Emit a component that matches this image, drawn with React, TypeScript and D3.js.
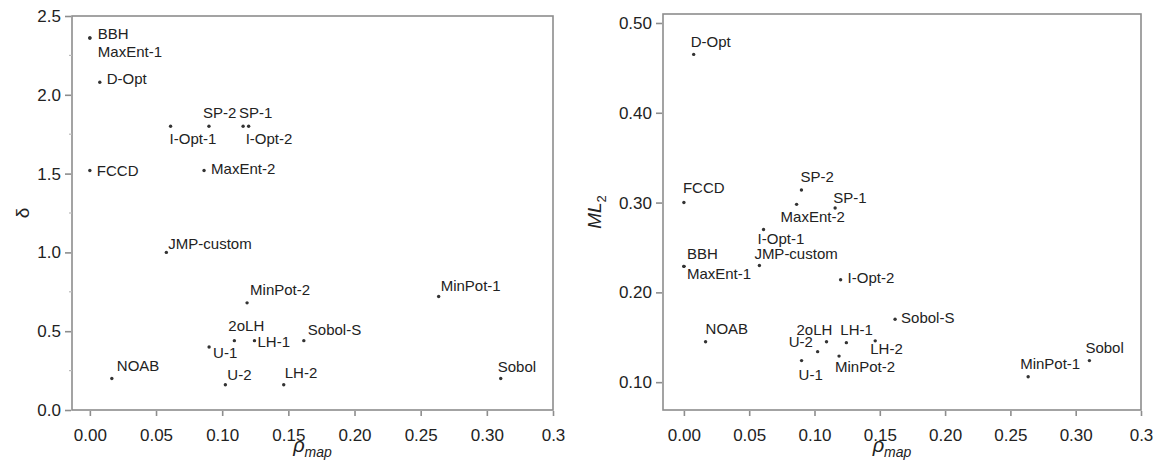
import { useEffect, useRef } from 'react';
import * as d3 from 'd3';

// design names and their measured values
const designs = ['BBH', 'MaxEnt-1', 'D-Opt', 'FCCD', 'I-Opt-1', 'I-Opt-2', 'SP-1', 'SP-2', 'MaxEnt-2', 'JMP-custom',
	'MinPot-1', 'MinPot-2', '2oLH', 'LH-1', 'LH-2', 'U-1', 'U-2', 'NOAB', 'Sobol', 'Sobol-S'];
const rhoMap = [0.0, 0.0, 0.0075, 0.0, 0.061, 0.12, 0.1158, 0.09, 0.0863, 0.0578,
	0.2636, 0.1188, 0.1092, 0.1244, 0.1465, 0.0901, 0.1024, 0.0166, 0.3105, 0.1617];
const delta = [2.36, 2.36, 2.08, 1.52, 1.80, 1.80, 1.80, 1.80, 1.52, 1.00,
	0.72, 0.68, 0.44, 0.44, 0.16, 0.40, 0.16, 0.20, 0.20, 0.44];
const ml2 = [0.229, 0.229, 0.465, 0.300, 0.270, 0.214, 0.294, 0.314, 0.298, 0.230,
	0.106, 0.129, 0.145, 0.144, 0.146, 0.124, 0.134, 0.145, 0.124, 0.170];

const xTicks = [0, 0.05, 0.1, 0.15, 0.2, 0.25, 0.3, 0.35];
const xTickLabels = ['0.00', '0.05', '0.10', '0.15', '0.20', '0.25', '0.30', '0.3'];
const deltaTicks = [0, 0.5, 1.0, 1.5, 2.0, 2.5];
const deltaMinor = [0.25, 0.75, 1.25, 1.75, 2.25];
const ml2Ticks = [0.1, 0.2, 0.3, 0.4, 0.5];

// label placement relative to each dot: [dx, dy]
const leftLabelPos: Record<string, [number, number]> = {
	'BBH': [8, 1], 'MaxEnt-1': [8, 19], 'D-Opt': [7, 2], 'FCCD': [7, 6], 'I-Opt-1': [-1, 18], 'I-Opt-2': [-3, 18],
	'SP-1': [-4, -8], 'SP-2': [-6, -8], 'MaxEnt-2': [7, 4], 'JMP-custom': [2, -3], 'MinPot-1': [2, -6],
	'MinPot-2': [3, -8], '2oLH': [-6, -10], 'LH-1': [3, 6], 'LH-2': [1, -7], 'U-1': [4, 11], 'U-2': [2, -5],
	'NOAB': [5, -7], 'Sobol': [-3, -6], 'Sobol-S': [4, -6],
};
const rightLabelPos: Record<string, [number, number]> = {
	'BBH': [3, -7], 'MaxEnt-1': [3, 13], 'D-Opt': [-3, -7], 'FCCD': [-1, -10], 'I-Opt-1': [-6, 14], 'I-Opt-2': [7, 3],
	'SP-1': [-2, -5], 'SP-2': [-1, -8], 'MaxEnt-2': [-16, 18], 'JMP-custom': [-5, -6], 'MinPot-1': [-8, -8],
	'MinPot-2': [-4, 16], '2oLH': [-30, -7], 'LH-1': [-6, -8], 'LH-2': [-5, 13], 'U-1': [-3, 19], 'U-2': [-29, -5],
	'NOAB': [0, -8], 'Sobol': [-4, -8], 'Sobol-S': [6, 4],
};

const font = '"Liberation Sans", Arial, Helvetica, sans-serif';
const axisGray = '#8d8d8d';
const ink = '#222';

export default function App() {
	const ref = useRef<SVGSVGElement | null>(null);

	useEffect(() => {
		if (!ref.current) return;
		const svg = d3.select(ref.current);
		svg.selectAll('*').remove();

		const panels = [
			{
				x0: 72, x1: 553, y0: 16, y1: 410, xDomain: [-0.0135, 0.35], yDomain: [0, 2.5],
				yValues: delta, yTicks: deltaTicks, yMinor: deltaMinor, fmt: d3.format('.1f'), labels: leftLabelPos,
			},
			{
				x0: 663, x1: 1141, y0: 14, y1: 410, xDomain: [-0.016, 0.35], yDomain: [0.069, 0.51],
				yValues: ml2, yTicks: ml2Ticks, yMinor: [] as number[], fmt: d3.format('.2f'), labels: rightLabelPos,
			},
		];

		panels.forEach((p, pi) => {
			const x = d3.scaleLinear().domain(p.xDomain).range([p.x0, p.x1]);
			const y = d3.scaleLinear().domain(p.yDomain).range([p.y1, p.y0]);
			const g = svg.append('g');

			g.append('rect')
				.attr('x', p.x0).attr('y', p.y0)
				.attr('width', p.x1 - p.x0).attr('height', p.y1 - p.y0)
				.attr('fill', 'white')
				.attr('stroke', axisGray).attr('stroke-width', 1.6);

			const xAxis = d3.axisBottom(x)
				.tickValues(xTicks)
				.tickFormat((_d, i) => xTickLabels[i])
				.tickSize(5).tickSizeOuter(0).tickPadding(13);
			const xg = g.append('g').attr('transform', `translate(0, ${p.y1 + 1})`).call(xAxis);
			xg.select('.domain').remove();
			xg.selectAll('line').attr('stroke', axisGray).attr('stroke-width', 1.6);
			xg.selectAll('text').attr('fill', ink).style('font-family', font).style('font-size', '17px');

			const yAxis = d3.axisLeft(y)
				.tickValues(p.yTicks)
				.tickFormat(d => p.fmt(d as number))
				.tickSize(6).tickSizeOuter(0).tickPadding(4);
			const yg = g.append('g').attr('transform', `translate(${p.x0 - 1}, 0)`).call(yAxis);
			yg.select('.domain').remove();
			yg.selectAll('line').attr('stroke', axisGray).attr('stroke-width', 1.6);
			yg.selectAll('text').attr('fill', ink).style('font-family', font).style('font-size', '17px');

			g.selectAll('.minor')
				.data(p.yMinor)
				.enter()
				.append('line')
				.attr('x1', p.x0 - 3).attr('x2', p.x0)
				.attr('y1', d => y(d)).attr('y2', d => y(d))
				.attr('stroke', '#bbb').attr('stroke-width', 1.2);

			// x title
			const cx = (p.x0 + p.x1) / 2 - (pi === 1 ? 10 : 0);
			const xt = g.append('text')
				.attr('x', cx).attr('y', 452)
				.attr('text-anchor', 'middle')
				.attr('fill', ink)
				.style('font-family', font)
				.style('font-style', 'italic');
			xt.append('tspan').style('font-size', '20px').text('ρ');
			xt.append('tspan').style('font-size', '14px').attr('dy', 5).text('map');

			// y title
			const cy = (p.y0 + p.y1) / 2;
			const yt = g.append('text')
				.attr('transform', `translate(${pi === 0 ? 29 : 601}, ${cy}) rotate(-90)`)
				.attr('text-anchor', 'middle')
				.attr('fill', ink)
				.style('font-family', font);
			if (pi === 0) {
				yt.style('font-size', '19px').text('δ');
			} else {
				yt.append('tspan').style('font-size', '19px').style('font-style', 'italic').text('ML');
				yt.append('tspan').style('font-size', '13px').attr('dy', 5).text('2');
			}

			const idx = d3.range(designs.length);
			g.selectAll('.dot')
				.data(idx)
				.enter()
				.append('circle')
				.attr('cx', i => x(rhoMap[i]))
				.attr('cy', i => y(p.yValues[i]))
				.attr('r', 1.7)
				.attr('fill', '#333');

			g.selectAll('.lbl')
				.data(idx)
				.enter()
				.append('text')
				.attr('x', i => x(rhoMap[i]) + p.labels[designs[i]][0])
				.attr('y', i => y(p.yValues[i]) + p.labels[designs[i]][1])
				.attr('fill', ink)
				.style('font-family', font)
				.style('font-size', '15px')
				.text(i => designs[i]);
		});
	}, []);

	return (
		<svg
			ref={ref}
			width={1156}
			height={471}
			style={{ position: 'absolute', left: 0, top: 0, background: 'white' }}
		/>
	);
}
